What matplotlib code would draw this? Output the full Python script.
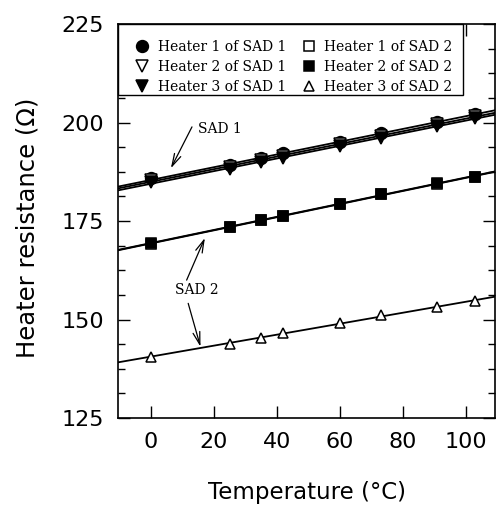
import matplotlib
matplotlib.use("Agg")
import matplotlib.pyplot as plt
import numpy as np
from matplotlib.patches import Rectangle
from matplotlib.ticker import MultipleLocator

# temperatures of the measurements (degC)
temps = [0, 25, 35, 42, 60, 73, 91, 103]

# heater resistance (ohm)
sad1_h1 = [185.8, 189.2, 190.9, 192.2, 195.1, 197.3, 200.2, 202.2]
sad1_h2 = [185.3, 188.8, 190.4, 191.6, 194.5, 196.7, 199.6, 201.6]
sad1_h3 = [184.8, 188.3, 189.9, 191.1, 194.0, 196.2, 199.1, 201.1]
sad2_h1 = [169.2, 173.5, 175.2, 176.3, 179.2, 181.8, 184.5, 186.2]
sad2_h2 = [169.3, 173.6, 175.3, 176.4, 179.3, 181.9, 184.6, 186.3]
sad2_h3 = [140.6, 143.9, 145.4, 146.5, 149.0, 151.1, 153.1, 154.8]

labels = ["Heater 1 of SAD 1", "Heater 2 of SAD 1", "Heater 3 of SAD 1",
          "Heater 1 of SAD 2", "Heater 2 of SAD 2", "Heater 3 of SAD 2"]

sans = ["DejaVu Sans"]
serif = ["DejaVu Serif"]


def main():
    fig = plt.figure(figsize=(4.98, 5.05), dpi=100)
    ax = fig.add_axes([0.237, 0.1723, 0.757, 0.780])
    xlim = (-10.5, 109.3)

    series = [
        (sad1_h1, dict(marker="o", ms=8.5, mfc="black", mec="black")),
        (sad1_h2, dict(marker="v", ms=8, mfc="white", mec="black")),
        (sad1_h3, dict(marker="v", ms=8, mfc="black", mec="black")),
        (sad2_h1, dict(marker="s", ms=7, mfc="white", mec="black")),
        (sad2_h2, dict(marker="s", ms=7, mfc="black", mec="black")),
        (sad2_h3, dict(marker="^", ms=7.5, mfc="white", mec="black")),
    ]

    handles = []
    xx = np.array(xlim)
    for (vals, style), lab in zip(series, labels):
        k, b = np.polyfit(temps, vals, 1)
        ax.plot(xx, k * xx + b, "-", color="black", lw=1.3, zorder=2)
        h, = ax.plot(temps, vals, ls="none", mew=1.1, zorder=3, label=lab, **style)
        handles.append(h)

    ax.set_xlim(*xlim)
    ax.set_ylim(125, 225)
    ax.set_xticks([0, 20, 40, 60, 80, 100])
    ax.set_yticks([125, 150, 175, 200, 225])
    ax.yaxis.set_minor_locator(MultipleLocator(6.25))
    ax.tick_params(which="both", direction="in", top=True, right=True, width=1)
    ax.tick_params(which="major", length=8.5, pad=10, labelsize=16)
    ax.tick_params(which="minor", length=5)
    for lab in ax.get_xticklabels() + ax.get_yticklabels():
        lab.set_family(sans)
    for sp in ax.spines.values():
        sp.set_linewidth(1.2)

    xl = ax.set_xlabel("Temperature (°C)", family=sans, fontsize=16.5)
    yl = ax.set_ylabel("Heater resistance (Ω)", family=sans, fontsize=17.5)
    xl.set_verticalalignment("center")
    yl.set_verticalalignment("center")
    ax.xaxis.set_label_coords(0.5, -0.19)
    ax.yaxis.set_label_coords(-0.241, 0.482)

    # legend box spanning from the left axis to about x=105
    ax.add_patch(Rectangle((0, 0.8198), 0.915, 0.1802, transform=ax.transAxes,
                           facecolor="white", edgecolor="black", lw=1.0,
                           zorder=2.2, clip_on=False))
    leg = ax.legend(handles=handles, ncol=2, loc="upper left",
                    bbox_to_anchor=(0.045, 0.96), borderaxespad=0,
                    frameon=False, handlelength=1.0, handletextpad=0.65,
                    columnspacing=1.1, labelspacing=0.43, borderpad=0,
                    prop=dict(family=serif, size=10))
    leg.set_zorder(5)

    # labels with arrows
    arrow = dict(arrowstyle="->,head_length=0.9,head_width=0.25", lw=0.9,
                 color="black", shrinkA=0, shrinkB=0)
    ax.text(14.9, 198.4, "SAD 1", family=serif, fontsize=10, va="center")
    ax.annotate("", xy=(6.3, 188.4), xytext=(13.0, 198.9), arrowprops=arrow)
    ax.text(7.6, 157.5, "SAD 2", family=serif, fontsize=10, va="center")
    ax.annotate("", xy=(17.1, 170.7), xytext=(11.3, 160.0), arrowprops=arrow)
    ax.annotate("", xy=(15.7, 143.1), xytext=(11.8, 154.1), arrowprops=arrow)

    fig.savefig("out.png", dpi=100)


if __name__ == "__main__":
    main()
